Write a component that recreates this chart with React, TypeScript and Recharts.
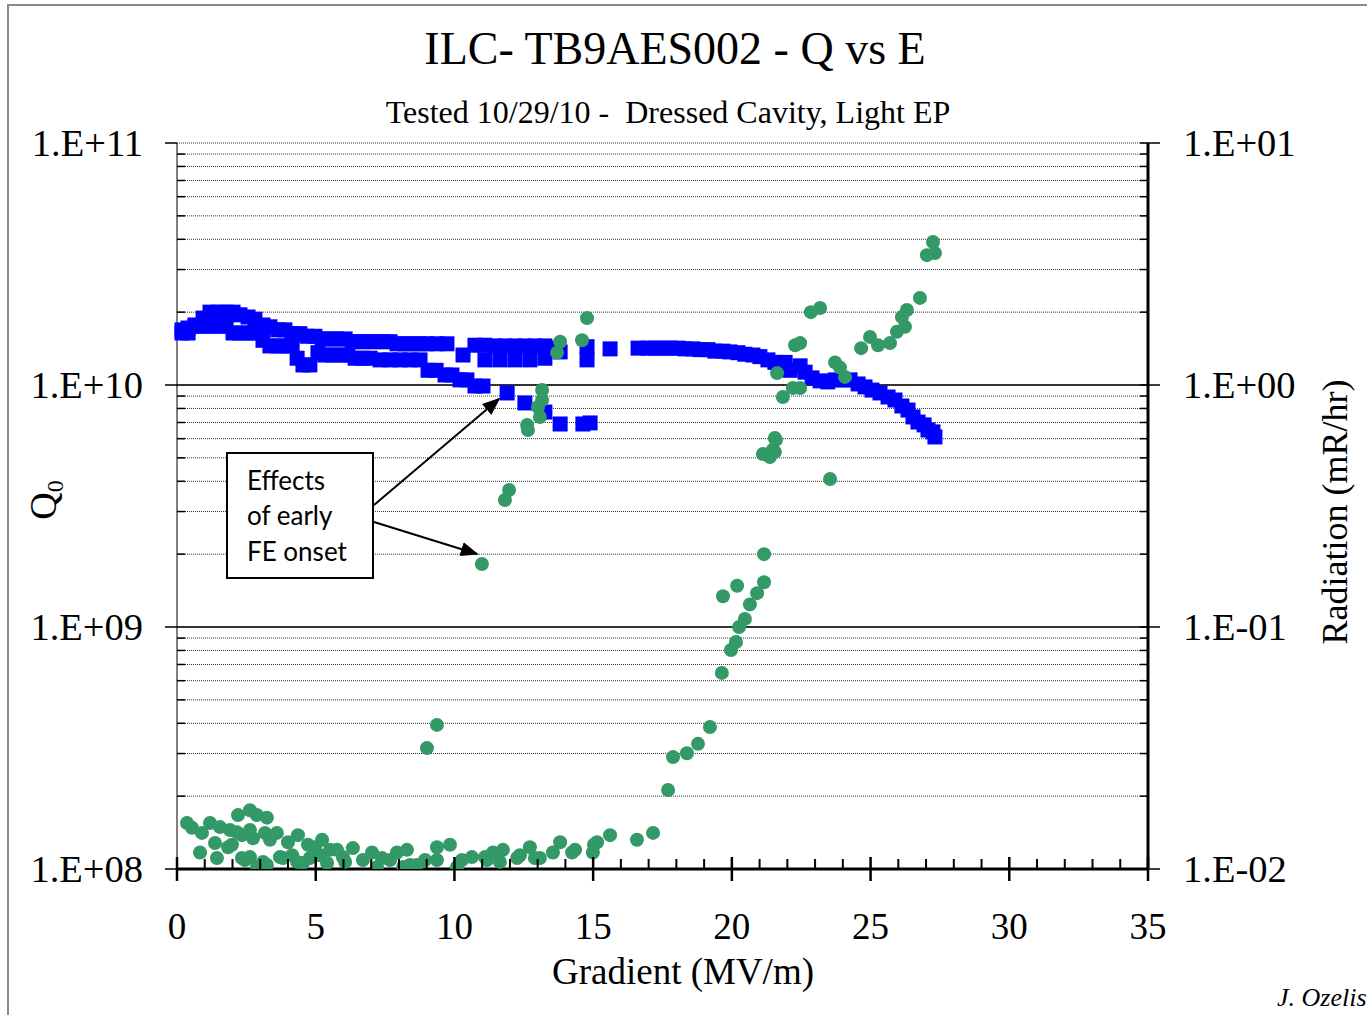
import React from 'react';
import { ScatterChart, Scatter, XAxis, YAxis, CartesianGrid, ReferenceLine } from 'recharts';

// Q0 (blue squares), gradient in MV/m, Q in units of 1e10
const qGradient = [
  // upper edge of the band
  0.18, 0.40, 0.65, 0.94, 1.19, 1.48, 1.77, 2.02, 2.27, 2.56,
  2.81, 3.10, 3.35, 3.64, 3.89, 4.15, 4.43, 4.69, 4.97, 5.23,
  5.51, 5.77, 6.06, 6.31, 6.60, 6.85, 7.14, 7.39, 7.68, 7.93,
  8.22, 8.47, 8.76, 9.01, 9.37, 9.73, 10.31, 10.74, 11.10, 11.46,
  11.82, 12.18, 12.54, 12.90, 13.26, 13.63,
  // lower edge of the band
  0.18, 0.40, 0.65, 0.94, 1.19, 1.48, 1.77, 2.02, 2.27, 2.56,
  2.81, 3.10, 3.35, 3.64, 3.89, 4.15, 4.33, 4.54, 4.79, 5.08,
  5.33, 5.62, 5.88, 6.16, 6.42, 6.67, 6.96, 7.32, 7.68, 8.04,
  8.40, 8.76, 9.05, 9.34, 9.66, 9.91, 10.20, 10.45, 10.74, 11.03,
  // second row 11-14
  11.10, 11.64, 12.18, 12.72, 13.26, 13.81,
  // early drop
  11.90, 12.54, 13.26, 13.81, 14.63, 14.89,
  // rest of the run
  14.78, 14.78, 15.61, 16.62, 16.98, 17.23, 17.52, 17.77, 18.06, 18.31,
  18.60, 18.85, 19.14, 19.39, 19.68, 19.93, 20.22, 20.47, 20.76, 21.01,
  21.30, 21.55, 21.92, 22.10, 22.46, 22.64, 22.89, 23.18, 23.46, 23.72,
  24.00, 24.26, 24.55, 24.80, 25.05, 25.34, 25.63, 25.88, 26.13, 26.35,
  26.53, 26.71, 26.93, 27.07, 27.25, 27.32,
];
const qValues = [
  1.69, 1.72, 1.77, 1.89, 2.00, 2.00, 2.00, 2.00, 1.95, 1.91,
  1.87, 1.77, 1.74, 1.69, 1.69, 1.63, 1.63, 1.59, 1.59, 1.55,
  1.55, 1.55, 1.55, 1.51, 1.51, 1.51, 1.51, 1.51, 1.51, 1.48,
  1.48, 1.48, 1.48, 1.48, 1.48, 1.48, 1.33, 1.46, 1.46, 1.45,
  1.45, 1.45, 1.45, 1.45, 1.45, 1.42,
  1.64, 1.64, 1.75, 1.75, 1.75, 1.75, 1.75, 1.64, 1.64, 1.64,
  1.64, 1.53, 1.45, 1.45, 1.45, 1.45, 1.29, 1.21, 1.21, 1.36,
  1.33, 1.33, 1.33, 1.33, 1.29, 1.29, 1.29, 1.27, 1.27, 1.27,
  1.27, 1.27, 1.15, 1.15, 1.10, 1.10, 1.05, 1.05, 0.99, 0.99,
  1.27, 1.27, 1.27, 1.27, 1.29, 1.37,
  0.927, 0.843, 0.773, 0.690, 0.690, 0.697,
  1.44, 1.27, 1.41, 1.42, 1.42, 1.42, 1.42, 1.42, 1.42, 1.41,
  1.41, 1.40, 1.40, 1.38, 1.38, 1.37, 1.36, 1.34, 1.33, 1.31,
  1.27, 1.24, 1.24, 1.15, 1.20, 1.13, 1.07, 1.04, 1.03, 1.05,
  1.05, 1.05, 1.01, 0.982, 0.953, 0.927, 0.892, 0.867, 0.819, 0.788,
  0.738, 0.703, 0.684, 0.652, 0.640, 0.610,
];

// Radiation (green dots), mR/hr
const radGradient = [
  0.36, 0.54, 0.83, 0.90, 1.19, 1.37, 1.44, 1.55, 1.84, 1.91,
  2.20, 2.34, 2.34, 2.63, 2.63, 2.74, 2.88, 2.88, 3.17, 3.24,
  3.24, 3.60, 3.71, 4.00, 4.15, 4.36, 4.54, 4.97, 5.41, 5.51,
  5.98, 6.34, 6.70, 7.03, 7.21, 7.68, 7.93, 8.15, 8.29, 8.65,
  9.01, 9.37, 9.37, 9.37, 9.84, 10.09, 10.63, 10.99, 11.10, 11.17,
  11.39, 11.75, 11.82, 11.97, 12.26, 12.62, 12.65, 12.72, 12.90, 13.01,
  13.08, 13.16, 13.16, 13.55, 13.70, 13.81, 13.81, 14.24, 14.60, 14.78,
  14.99, 15.14, 15.61, 16.58, 17.16, 17.70, 17.88, 18.38, 18.78, 19.21,
  19.64, 19.68, 19.97, 20.15, 20.19, 20.26, 20.47, 20.65, 20.91, 21.16,
  21.16, 21.12, 21.37, 21.48, 21.55, 21.55, 21.59, 21.63, 21.84, 22.20,
  22.28, 22.46, 22.46, 22.85, 23.18, 23.54, 23.72, 23.90, 24.08, 24.66,
  24.98, 25.27, 25.70, 25.95, 26.13, 26.24, 26.31, 26.78, 27.03, 27.25, 27.32,
  2.45, 3.10, 3.82, 4.33, 4.79, 5.15, 5.77, 6.06, 1.98, 2.16,
  3.35, 2.63, 4.72, 5.23, 7.39, 8.40, 8.94, 10.27, 11.64, 12.36,
  13.08, 14.35, 15.03,
];
const radValues = [
  0.0155, 0.0148, 0.0117, 0.0141, 0.0155, 0.0128, 0.0111, 0.0149, 0.0123, 0.0145,
  0.0167, 0.0138, 0.0111, 0.0175, 0.0112, 0.0134, 0.0167, 0.0102, 0.0141, 0.0163,
  0.0104, 0.0141, 0.0112, 0.0129, 0.0114, 0.0138, 0.0106, 0.0123, 0.0106, 0.0120,
  0.0112, 0.0122, 0.0109, 0.0117, 0.0102, 0.0109, 0.0117, 0.0102, 0.0120, 0.0104,
  0.0316, 0.0394, 0.0123, 0.0109, 0.0126, 0.0102, 0.0112, 0.182, 0.0112, 0.0109,
  0.0117, 0.0120, 0.335, 0.368, 0.0111, 0.684, 0.652, 0.0123, 0.0111, 0.811,
  0.738, 0.953, 0.867, 0.0117, 1.36, 1.51, 0.0129, 0.0117, 1.53, 1.89,
  0.0117, 0.0129, 0.0138, 0.0132, 0.0141, 0.0212, 0.0290, 0.0301, 0.0329, 0.0386,
  0.0646, 0.134, 0.0803, 0.0867, 0.148, 0.100, 0.108, 0.124, 0.138, 0.153,
  0.200, 0.519, 0.504, 0.540, 0.529, 0.604, 0.593, 1.12, 0.892, 0.972,
  1.46, 1.49, 0.972, 2.00, 2.08, 0.409, 1.24, 1.18, 1.08, 1.42,
  1.58, 1.46, 1.49, 1.66, 1.91, 1.74, 2.04, 2.29, 3.44, 3.90, 3.51,
  0.0109, 0.0107, 0.0111, 0.0107, 0.0111, 0.0114, 0.0120, 0.0107, 0.0126, 0.0142,
  0.0132, 0.0145, 0.0126, 0.0132, 0.0111, 0.0104, 0.0109, 0.0109, 0.0107, 0.0114,
  0.0111, 0.0120, 0.0126,
];

const xTicks = [
  0, 1, 2, 3, 4, 5, 6, 7, 8, 9, 10, 11, 12, 13, 14, 15, 16, 17,
  18, 19, 20, 21, 22, 23, 24, 25, 26, 27, 28, 29, 30, 31, 32, 33, 34, 35,
];
const qDecades = [1e8, 1e9, 1e10];
const qLabels = ['1.E+08', '1.E+09', '1.E+10', '1.E+11'];
const radDecades = [0.01, 0.1, 1];
const radLabels = ['1.E-02', '1.E-01', '1.E+00', '1.E+01'];
const mantissas = [1, 2, 3, 4, 5, 6, 7, 8, 9];

const qTicks = [...qDecades.flatMap((d) => mantissas.map((m) => m * d)), 1e11];
const radTicks = [...radDecades.flatMap((d) => mantissas.map((m) => +(m * d).toPrecision(3))), 10];

const qData = qGradient.map((x, i) => ({ x, y: qValues[i] * 1e10 }));
const radData = radGradient.map((x, i) => ({ x, y: radValues[i] }));

const SERIF = '"Liberation Serif", "Times New Roman", serif';

const decadeIndex = (v: number, base: number) => {
  const l = Math.log10(v / base);
  return Math.abs(l - Math.round(l)) < 1e-6 ? Math.round(l) : -1;
};

const LeftTick = (props: any) => {
  const { x, y, payload } = props;
  const idx = decadeIndex(payload.value, 1e8);
  if (idx < 0) {
    return <line x1={x} x2={x + 8} y1={y} y2={y} stroke="#000" strokeWidth={1.5} />;
  }
  return (
    <g>
      <line x1={x - 12} x2={x} y1={y} y2={y} stroke="#000" strokeWidth={1.5} />
      <text x={x - 34} y={y} dy="0.35em" textAnchor="end" fontFamily={SERIF} fontSize={38.5} fill="#000">
        {qLabels[idx]}
      </text>
    </g>
  );
};

const RightTick = (props: any) => {
  const { x, y, payload } = props;
  const idx = decadeIndex(payload.value, 0.01);
  if (idx < 0) {
    return <line x1={x - 8} x2={x} y1={y} y2={y} stroke="#000" strokeWidth={1.5} />;
  }
  return (
    <g>
      <line x1={x - 8} x2={x + 12} y1={y} y2={y} stroke="#000" strokeWidth={1.5} />
      <text x={x + 35} y={y} dy="0.35em" textAnchor="start" fontFamily={SERIF} fontSize={38.5} fill="#000">
        {radLabels[idx]}
      </text>
    </g>
  );
};

const BottomTick = (props: any) => {
  const { x, y, payload } = props;
  const v = payload.value;
  if (v % 5 !== 0) {
    return <line x1={x} x2={x} y1={y - 10} y2={y} stroke="#000" strokeWidth={2} />;
  }
  return (
    <g>
      <line x1={x} x2={x} y1={y - 12} y2={y + 12} stroke="#000" strokeWidth={2.5} />
      <text x={x} y={y + 57} dy="0.35em" textAnchor="middle" fontFamily={SERIF} fontSize={37} fill="#000">
        {v}
      </text>
    </g>
  );
};

const Square = (p: any) => <rect x={p.cx - 7.5} y={p.cy - 7.5} width={15} height={15} fill="#0000FF" />;
const Dot = (p: any) => <circle cx={p.cx} cy={p.cy} r={7} fill="#339966" />;

export default function App() {
  return (
    <div style={{ position: 'absolute', left: 0, top: 0, width: 1367, height: 1015, overflow: 'hidden', background: '#fff' }}>
      <div
        style={{
          position: 'absolute', left: 7, top: 4, width: 1500, height: 1200,
          borderTop: '2px solid #8a8a8a', borderLeft: '2px solid #8a8a8a',
        }}
      />
      <div style={{ position: 'absolute', left: 0, top: 0 }}>
        <ScatterChart width={1367} height={1015} margin={{ top: 143, right: 119, bottom: 86, left: 77 }}>
          <CartesianGrid yAxisId="q" vertical={false} stroke="#333" strokeDasharray="1 1" />
          <XAxis
            type="number"
            dataKey="x"
            domain={[0, 35]}
            ticks={xTicks}
            interval={0}
            height={60}
            tickSize={0}
            tickMargin={0}
            tick={<BottomTick />}
            axisLine={{ stroke: '#000', strokeWidth: 3 }}
          />
          <YAxis
            yAxisId="q"
            type="number"
            dataKey="y"
            scale="log"
            domain={[1e8, 1e11]}
            allowDataOverflow
            ticks={qTicks}
            interval={0}
            width={100}
            tickSize={0}
            tickMargin={0}
            tick={<LeftTick />}
            axisLine={{ stroke: '#000', strokeWidth: 1 }}
          />
          <YAxis
            yAxisId="r"
            orientation="right"
            type="number"
            dataKey="y"
            scale="log"
            domain={[0.01, 10]}
            allowDataOverflow
            ticks={radTicks}
            interval={0}
            width={100}
            tickSize={0}
            tickMargin={0}
            tick={<RightTick />}
            axisLine={{ stroke: '#000', strokeWidth: 3 }}
          />
          <ReferenceLine yAxisId="q" y={1e9} stroke="#000" strokeWidth={1.3} />
          <ReferenceLine yAxisId="q" y={1e10} stroke="#000" strokeWidth={1.3} />
          <Scatter yAxisId="q" data={qData} shape={<Square />} isAnimationActive={false} />
          <Scatter yAxisId="r" data={radData} shape={<Dot />} isAnimationActive={false} />
        </ScatterChart>
      </div>
      <svg width={1367} height={1015} style={{ position: 'absolute', left: 0, top: 0, pointerEvents: 'none' }}>
        <defs>
          <marker id="arr" viewBox="0 0 10 10" refX="9" refY="5" markerWidth="9" markerHeight="9" orient="auto">
            <path d="M0,1 L10,5 L0,9 z" fill="#000" />
          </marker>
        </defs>
        <text x={675} y={64} textAnchor="middle" fontFamily={SERIF} fontSize={46} fill="#000">
          ILC- TB9AES002 - Q vs E
        </text>
        <text x={668} y={123} textAnchor="middle" fontFamily={SERIF} fontSize={32} fill="#000" style={{ whiteSpace: 'pre' }}>
          Tested 10/29/10 -  Dressed Cavity, Light EP
        </text>
        <text x={683} y={984} textAnchor="middle" fontFamily={SERIF} fontSize={37} fill="#000">
          Gradient (MV/m)
        </text>
        <g transform="translate(56,500) rotate(-90)">
          <text x={0} y={0} textAnchor="middle" fontFamily={SERIF} fontSize={38} fill="#000">
            Q<tspan fontSize={24} dy={7}>0</tspan>
          </text>
        </g>
        <g transform="translate(1347,512) rotate(-90)">
          <text x={0} y={0} textAnchor="middle" fontFamily={SERIF} fontSize={36} fill="#000">
            Radiation (mR/hr)
          </text>
        </g>
        <text x={1277} y={1006} fontFamily={SERIF} fontStyle="italic" fontSize={26} fill="#000">
          J. Ozelis
        </text>
        <rect x={227} y={453} width={146} height={125} fill="#fff" stroke="#000" strokeWidth={2} />
        <g fontFamily='Lato, "Open Sans", sans-serif' fontSize={26} fill="#000">
          <text x={247} y={490}>Effects</text>
          <text x={247} y={525}>of early</text>
          <text x={247} y={561}>FE onset</text>
        </g>
        <line x1={374} y1={505} x2={499} y2={399} stroke="#000" strokeWidth={2} markerEnd="url(#arr)" />
        <line x1={374} y1={522} x2={477} y2={554} stroke="#000" strokeWidth={2} markerEnd="url(#arr)" />
      </svg>
    </div>
  );
}
